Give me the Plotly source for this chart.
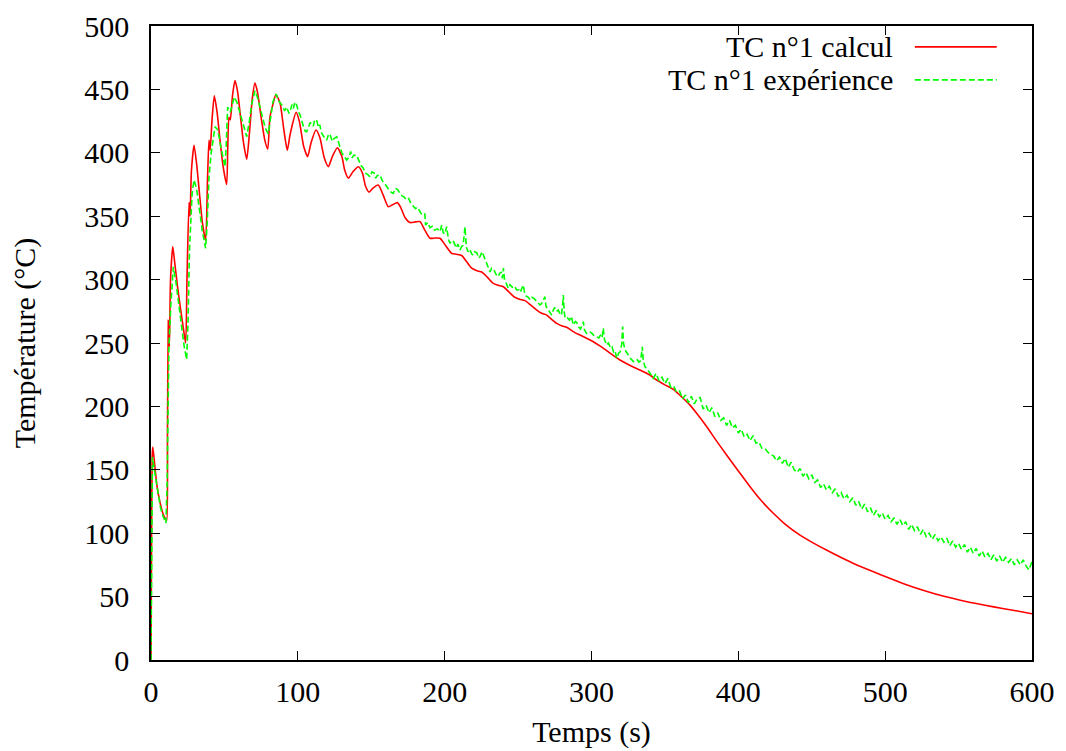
import plotly.graph_objects as go

# ---- data ----
calc_t = [0, 0.3, 0.8, 1.2, 2, 4, 6, 8, 10, 10.7, 11.2, 11.8, 12.5, 13.3, 14.8, 16, 18, 20, 22, 23.6,
          24.5, 25.9, 26.6, 27.5, 29.3, 31, 33, 35, 37.2, 38.5, 39.5, 40.3, 41.5, 43.1, 45, 47, 49, 51.5,
          52.3, 53.1, 54, 55.5, 57.2, 59, 61, 63, 65.2, 67, 69, 70.8, 72.5, 75, 77.5, 79.5, 81, 83, 85.1,
          87.9, 90.5, 92.8, 94.5, 95.8, 98.8, 101, 104, 106.7, 109, 112.4, 115, 118, 120.8, 123.5, 126.9,
          130, 132, 134.4, 137.5, 141.2, 144, 146, 148.5, 151, 154.8, 158, 161.6, 164.5, 167.8, 170, 173,
          176.4, 180, 183.2, 186.5, 190, 193.5, 196.8, 200.5, 204.8, 208, 211.6, 215, 218.4, 222, 225.2,
          229, 233.1, 236.5, 240, 244, 247.9, 251, 254.7, 258.5, 262.7, 266, 269.5, 273, 276.3, 280, 283.1,
          287.5, 292.2, 297, 301.2, 306, 310.3, 315, 319.4, 326, 333, 339.8, 344.4, 350, 355.7, 360, 367.1,
          372, 378.5, 385, 392, 400, 408, 415, 424, 432, 442, 450, 460, 470, 480, 490, 503, 515,
          528, 540, 555, 568, 580, 590, 600]
calc_T = [0, 80, 160, 168, 160, 138, 125, 116, 111, 110, 180, 268, 247, 300, 326, 315, 295, 278, 262, 250,
          300, 361, 350, 385, 406, 392, 368, 345, 331, 380, 410, 402, 425, 445, 432, 410, 390, 375,
          405, 428, 426, 445, 457, 448, 428, 408, 395, 415, 443, 455, 448, 428, 410, 403, 428, 438, 446,
          439, 418, 402, 413, 420, 432, 425, 405, 397, 408, 418, 412, 396, 389, 397, 404,
          397, 386, 380, 385, 389, 384, 374, 369, 372, 374.6, 367, 357.5, 359, 360.7, 357, 349,
          345, 345.5, 345.7, 339, 332.6, 332.8, 332.6, 327, 320.7, 320, 319, 314, 309, 307, 306,
          302, 297, 295.5, 294.4, 290, 286, 284.5, 283.4, 280, 276, 273.5, 272, 268.5, 265.5, 263.5, 262.4,
          259, 256.3, 253.5, 251, 247.5, 244, 240, 236.6, 232.5, 228.7, 224.8, 220.8, 217, 213.5, 209, 201,
          194, 184, 173, 161.7, 149, 136.7, 126.5, 115.5, 107, 98.5, 93, 86.7, 80.8, 75.3, 70.5, 64.5, 59.2,
          54.2, 50.2, 46.2, 43.2, 40.6, 38.6, 36.5]

exp_t = [0, 0.5, 1, 2, 3.5, 5, 6.5, 8, 9, 10.2, 11, 11.5, 12.2, 13.5, 15.2, 17, 19, 21, 22.5, 24.3,
         25.3, 26.2, 27, 28, 29.3, 31, 33, 35, 37.2, 38.3, 39.5, 41, 43.6, 45.5, 47.5, 49, 50.4, 51.2,
         52.2, 54, 55.5, 56.7, 58.5, 60.5, 63, 65.2, 67, 68.5, 70.8, 73, 75.5, 78, 79.9, 81.5, 83, 85.1,
         87.5, 89.5, 91, 92.4, 94, 95, 96, 97, 98, 99.2, 100.5, 101.5, 103, 104, 105, 106, 107.5, 108.5,
         110.5, 111.5, 112.8, 114, 115, 116, 117.5, 119.7, 121, 122, 123.5, 124.5, 126.5, 128, 129, 130,
         131, 133.3, 135, 136, 137, 138, 140.1, 141.5, 143, 144.5, 146, 147.5, 149.2, 150.5, 152, 153,
         154, 156, 157.5, 159, 160.5, 162, 163.5, 165, 166.5, 168, 169.5, 171, 172.5, 174.1, 175.5, 177,
         178.5, 180, 181.5, 183, 184, 185.5, 186.5, 187, 188.5, 190, 191.5, 193, 195, 196.8, 198, 199,
         200, 201.4, 202.5, 203.6, 205, 206, 207, 208, 209, 210.4, 211.5, 212.5, 213.2, 213.8, 214.5,
         215, 216, 217, 218.5, 219.5, 220.5, 222, 223, 224, 225.5, 226.5, 227.5, 229, 230.9, 232, 233.5,
         235, 236.5, 237.5, 238.5, 239.3, 240, 240.8, 241.5, 243.4, 244.5, 246, 247.5, 249, 250.5, 251.5,
         252.5, 253.6, 254.5, 255.5, 257, 258.1, 259.5, 261, 262.5, 264.9, 266, 267.3, 268.3, 269, 270,
         271.5, 272.9, 274, 275, 276.2, 277.4, 278.5, 279.5, 280.3, 280.8, 281.4, 282, 283.5, 285, 286.3,
         287.6, 289, 290, 291, 292.5, 293.6, 294.4, 295.3, 296.7, 298.5, 300, 301.5, 303.5, 305, 306,
         307.2, 308, 308.8, 310.3, 311.5, 313, 314, 315, 316, 317.2, 318.5, 319.5, 320.6, 321.2, 321.8,
         322.8, 324, 325, 326.5, 328.5, 330, 331, 332.3, 333.5, 334.2, 334.6, 335.3, 336.4, 337.5, 339,
         340, 342, 344, 346, 348, 350, 352, 354, 356, 358, 360, 362, 364, 366, 368, 370, 372, 374, 376,
         378, 380, 382, 384, 386, 388, 390, 392, 394, 396, 398, 400, 402, 404, 406, 408, 410, 412, 414,
         416, 418, 420, 422, 424, 426, 428, 430, 432, 434, 436, 438, 440, 442, 444, 446, 448, 450, 452,
         454, 456, 458, 460, 462, 464, 466, 468, 470, 472, 474, 476, 478, 480, 482, 484, 486, 488, 490,
         492, 494, 496, 498, 500, 502, 504, 506, 508, 510, 512, 514, 516, 518, 520, 522, 524, 526, 528,
         530, 532, 534, 536, 538, 540, 542, 544, 546, 548, 550, 552, 554, 556, 558, 560, 562, 564, 566,
         568, 570, 572, 574, 576, 578, 580, 582, 584, 586, 588, 590, 592, 594, 596, 598, 600]
exp_T = [0, 90, 160, 152, 140, 128, 120, 114, 111, 108, 140, 213, 247, 280, 310, 298, 280, 262, 248, 237,
         270, 323, 350, 368, 378.5, 372, 355, 338, 324.7, 345, 381, 400, 420.6, 418, 405, 395, 389, 405,
         436, 432, 440, 444, 440, 432, 420, 412.7, 425, 438, 449, 442, 430, 419, 415, 430, 440, 446.4,
         440, 437, 433, 436, 431, 434, 438, 435, 440, 437.7, 432, 430, 423, 420, 417, 416.6, 421, 424,
         421, 426, 425.9, 420, 422, 416, 413, 410, 415, 414, 409, 411, 412.7, 407, 404, 400, 398,
         394.3, 397, 401, 396, 398, 398, 394, 390, 388, 384, 383, 381, 385, 384, 380,
         382, 382.5, 378, 376, 373, 371, 369, 368, 372, 371, 368, 366, 365, 362.8, 364, 360,
         358, 356, 357, 354, 352, 351, 352, 343, 345, 341, 342, 339, 340, 337.8, 343, 337,
         336, 341.8, 332, 328.6, 331, 330, 327, 325, 328, 323.3, 326, 327, 334, 341.7, 330,
         324.7, 322, 324, 320, 319.4, 322, 321, 317, 318, 322, 319, 315.5, 312, 306, 309, 308,
         304, 302.3, 305, 306, 301, 309, 300, 298, 293, 296, 294, 295, 291.8, 292, 290,
         293, 295.7, 289, 287, 286, 284, 286, 285, 283, 280, 281, 284, 286.5, 279, 277,
         274, 272, 276, 278, 275, 276, 273, 272, 279, 287.9, 275, 269.5, 270, 268, 271,
         264.2, 267, 266, 263, 261, 264, 266.8, 260, 257.6, 259, 258, 256, 255, 254, 256,
         254, 261.6, 253, 248.4, 250, 246, 247, 243, 244, 238, 242, 243, 249, 262.9, 250,
         244.5, 242, 240, 238, 235.3, 237, 237, 235, 236, 244, 247, 236, 231.3, 230, 228,
         226, 222, 226, 220, 223, 218, 222, 215, 216, 211, 212, 206, 209, 203, 208, 202, 206, 207, 198,
         201, 195, 199, 192, 195, 189, 191, 185, 189, 183, 185, 179, 182, 176, 178, 173, 177, 171, 172,
         167, 167, 164, 162, 161, 157, 160, 155, 159, 152, 156, 150, 148, 151, 145, 148, 143, 146, 140,
         142, 136, 139, 134, 137, 132, 135, 129, 132, 127, 130, 125, 128, 122, 125, 119, 123, 117, 120,
         114, 118, 113, 116, 111, 114, 109, 112, 107, 111, 106, 109, 103, 107, 102, 105, 99, 103, 97,
         100, 95, 99, 94, 97, 93, 96, 90, 94, 89, 92, 87, 91, 85, 89, 84, 88, 82, 86,
         81, 84, 79, 83, 78, 82, 77, 81, 77, 80, 75, 79, 75, 79, 74, 71, 78]

x_ticks = [0, 100, 200, 300, 400, 500, 600]
y_ticks = [0, 50, 100, 150, 200, 250, 300, 350, 400, 450, 500]
names = ["TC n°1 calcul", "TC n°1 expérience"]
colors = ["#ff0000", "#00ff00"]

FONT = "Liberation Serif"
EXP_DASH = "6px,3px"

fig = go.Figure()
fig.add_trace(go.Scatter(x=calc_t, y=calc_T, mode="lines", name=names[0],
                         line=dict(color=colors[0], width=1.6, shape="spline", smoothing=0.6),
                         showlegend=False))
fig.add_trace(go.Scatter(x=exp_t, y=exp_T, mode="lines", name=names[1],
                         line=dict(color=colors[1], width=1.6, dash=EXP_DASH), showlegend=False))

axis_common = dict(showline=True, linecolor="black", linewidth=1.5, mirror="ticks",
                   ticks="inside", ticklen=9, tickwidth=1.2, tickcolor="black",
                   showgrid=False, zeroline=False, automargin=False,
                   tickfont=dict(family=FONT, size=30, color="black"))

fig.update_layout(
    width=1066, height=751,
    margin=dict(l=143, r=42, t=18, b=99),
    paper_bgcolor="white", plot_bgcolor="white",
    xaxis=dict(range=[0, 600], tickvals=x_ticks, ticklabelstandoff=4,
               title=dict(text="Temps (s)", font=dict(family=FONT, size=30, color="black"), standoff=14),
               **axis_common),
    yaxis=dict(range=[0, 500], tickvals=y_ticks, ticklabelstandoff=14,
               title=dict(text="Température (°C)", font=dict(family=FONT, size=30, color="black"), standoff=48),
               **axis_common),
)

# gnuplot-style key: text right-aligned, sample on the right
rows = [0.967, 0.915]
for name, col, yy, dash in zip(names, colors, rows, ["solid", EXP_DASH]):
    fig.add_annotation(xref="paper", yref="paper", x=0.845, y=yy, text=name, showarrow=False,
                       xanchor="right", yanchor="middle",
                       font=dict(family=FONT, size=30, color="black"))
    fig.add_shape(type="line", xref="paper", yref="paper", x0=0.867, x1=0.960, y0=yy, y1=yy,
                  line=dict(color=col, width=1.6, dash=dash))

fig.write_html("out.html")
